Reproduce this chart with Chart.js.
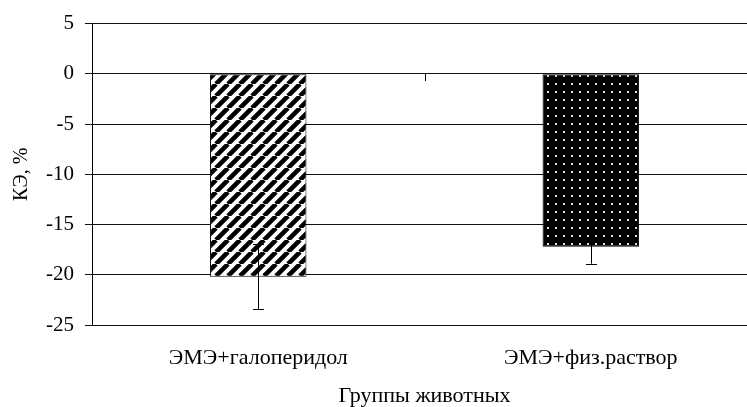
<!DOCTYPE html>
<html>
<head>
<meta charset="utf-8">
<script src="https://cdn.jsdelivr.net/npm/chart.js@4"></script>
<style>
  html, body { margin: 0; padding: 0; background: #fff; overflow: hidden; width: 747px; height: 407px; }
  canvas { display: block; }
</style>
</head>
<body>
<canvas id="chart" width="760" height="407"></canvas>
<script>
// Коэффициент эффективности (КЭ, %) по группам животных, среднее ± ошибка
const groups = ['ЭМЭ+галоперидол', 'ЭМЭ+физ.раствор'];
const keValues = [-20.2, -17.2];
const keErrors = [3.25, 1.7];
const yTicks = [5, 0, -5, -10, -15, -20, -25];

const FONT = '"Liberation Serif", "Times New Roman", serif';

// Штриховка: широкая диагональ «/» на белом фоне
function stripePattern() {
  const s = 12;
  const c = document.createElement('canvas');
  c.width = c.height = s;
  const g = c.getContext('2d');
  g.fillStyle = '#fff';
  g.fillRect(0, 0, s, s);
  g.strokeStyle = '#000';
  g.lineWidth = 4.6;
  g.beginPath();
  for (const o of [-s, 0, s]) {
    g.moveTo(o, s);
    g.lineTo(o + s, 0);
  }
  g.stroke();
  return g.createPattern(c, 'repeat');
}

// Чёрная заливка с мелкими светлыми точками
function dotPattern() {
  const s = 8;
  const c = document.createElement('canvas');
  c.width = c.height = s;
  const g = c.getContext('2d');
  g.fillStyle = '#000';
  g.fillRect(0, 0, s, s);
  g.fillStyle = '#d8d8d8';
  g.fillRect(3, 3, 2, 2);
  return g.createPattern(c, 'repeat');
}

// Планки погрешностей поверх столбиков
const errorBars = {
  id: 'errorBars',
  afterDatasetsDraw(chart) {
    const y = chart.scales.y;
    const meta = chart.getDatasetMeta(0);
    const ctx = chart.ctx;
    ctx.save();
    ctx.strokeStyle = '#000';
    ctx.lineWidth = 1;
    meta.data.forEach((bar, i) => {
      const x = Math.round(bar.x) + 0.5;
      const top = y.getPixelForValue(keValues[i] + keErrors[i]);
      const bot = y.getPixelForValue(keValues[i] - keErrors[i]);
      ctx.beginPath();
      ctx.moveTo(x, top);
      ctx.lineTo(x, bot);
      ctx.moveTo(x - 5.5, Math.round(top) + 0.5);
      ctx.lineTo(x + 5.5, Math.round(top) + 0.5);
      ctx.moveTo(x - 5.5, Math.round(bot) + 0.5);
      ctx.lineTo(x + 5.5, Math.round(bot) + 0.5);
      ctx.stroke();
    });
    ctx.restore();
  }
};

// Засечки оси категорий на линии нуля
const categoryTicks = {
  id: 'categoryTicks',
  afterDatasetsDraw(chart) {
    const x = chart.scales.x;
    const y0 = Math.round(chart.scales.y.getPixelForValue(0));
    const n = groups.length;
    const ctx = chart.ctx;
    ctx.save();
    ctx.strokeStyle = '#000';
    ctx.lineWidth = 1;
    ctx.beginPath();
    for (let i = 0; i <= n; i++) {
      const px = Math.round(x.left + i * (x.right - x.left) / n) + 0.5;
      ctx.moveTo(px, y0);
      ctx.lineTo(px, y0 + 7);
    }
    ctx.stroke();
    ctx.restore();
  }
};

new Chart(document.getElementById('chart'), {
  type: 'bar',
  data: {
    labels: groups,
    datasets: [{
      data: keValues,
      backgroundColor: [stripePattern(), dotPattern()],
      borderColor: '#000',
      borderWidth: 1,
      borderSkipped: false,
      barPercentage: 0.29,
      categoryPercentage: 1.0
    }]
  },
  options: {
    responsive: false,
    animation: false,
    layout: { padding: { top: 23, right: 3, left: 0, bottom: 0 } },
    plugins: { legend: { display: false }, tooltip: { enabled: false } },
    scales: {
      x: {
        afterFit(s) { s.height = 82; },
        grid: { display: false, drawTicks: false },
        border: { display: false },
        ticks: { color: '#000', font: { family: FONT, size: 22 }, padding: 20, maxRotation: 0 },
        title: {
          display: true, text: 'Группы животных', color: '#000',
          font: { family: FONT, size: 22 }, padding: { top: 0, bottom: -2 }
        }
      },
      y: {
        min: -25, max: 5,
        afterFit(s) { s.width = 92; },
        afterBuildTicks(s) { s.ticks = yTicks.map(v => ({ value: v })); },
        grid: { color: '#111', lineWidth: 1, tickLength: 7 },
        border: { color: '#000', width: 1 },
        ticks: { color: '#000', font: { family: FONT, size: 21 }, padding: 11 },
        title: {
          display: true, text: 'КЭ, %', color: '#000',
          font: { family: FONT, size: 20 }, padding: { top: 10, bottom: 0 }
        }
      }
    }
  },
  plugins: [errorBars, categoryTicks]
});
</script>
</body>
</html>
